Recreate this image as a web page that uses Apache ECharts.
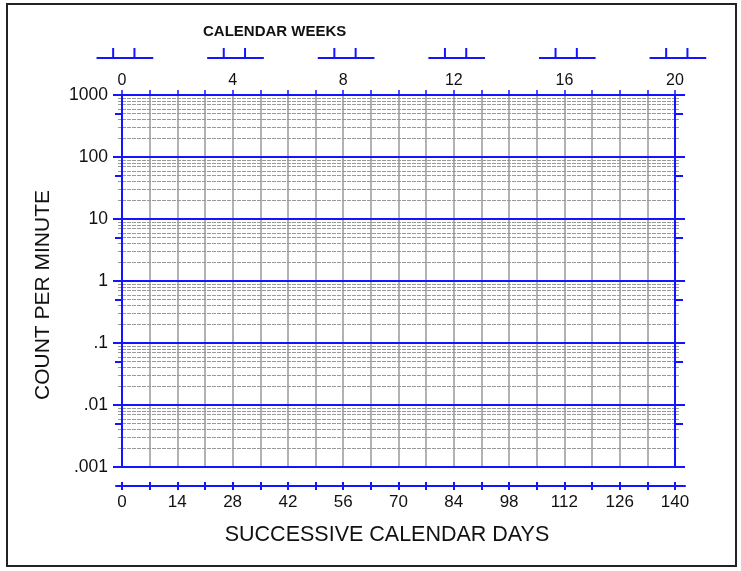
<!DOCTYPE html>
<html><head><meta charset="utf-8">
<script src="https://cdn.jsdelivr.net/npm/echarts@6/dist/echarts.min.js"></script>
<style>html,body{margin:0;padding:0;background:#fff}#c{width:741px;height:571px}</style>
</head><body><div id="c"></div>
<script>
// ---- data ----
const dayTicks = [0,7,14,21,28,35,42,49,56,63,70,77,84,91,98,105,112,119,126,133,140];
const dayLabels = [0,14,28,42,56,70,84,98,112,126,140];
const weekLabels = [0,4,8,12,16,20];
const decades = [0.001,0.01,0.1,1,10,100,1000];
const decadeLabels = ['.001','.01','.1','1','10','100','1000'];
const halfMarks = [0.005,0.05,0.5,5,50,500];
const minorValues = [
  0.002,0.003,0.004,0.005,0.006,0.007,0.008,0.009,
  0.02,0.03,0.04,0.05,0.06,0.07,0.08,0.09,
  0.2,0.3,0.4,0.5,0.6,0.7,0.8,0.9,
  2,3,4,5,6,7,8,9,
  20,30,40,50,60,70,80,90,
  200,300,400,500,600,700,800,900
];

// ---- layout / style ----
const W = 741, H = 571;
const PX0 = 122, PX1 = 675, PY0 = 95, PY1 = 467;
const DX0 = 116, DX1 = 685, DAY_AXIS_Y = 486;
const pxPerDay = (PX1 - PX0) / 140;
const dayMin = -(PX0 - DX0) / pxPerDay;
const dayMax = 140 + (DX1 - PX1) / pxPerDay;
const BLUE = '#1414ff';
const GRAY = '#999999';
const FONT = 'Liberation Sans, Arial, sans-serif';

const chart = echarts.init(document.getElementById('c'), null, {renderer: 'canvas'});

function decadeLabel(v) {
  for (let i = 0; i < decades.length; i++) {
    if (Math.abs(Math.log10(v) - Math.log10(decades[i])) < 1e-6) return decadeLabels[i];
  }
  return '';
}

const logBase = {type: 'log', logBase: 10, min: 0.001, max: 1000, gridIndex: 0};

const option = {
  animation: false,
  backgroundColor: '#fff',
  title: {
    text: 'CALENDAR WEEKS', left: 203, top: 24, padding: 0,
    textStyle: {fontFamily: FONT, fontSize: 15, fontWeight: 'bold', color: '#111'}
  },
  graphic: [{
    type: 'rect', shape: {x: 7, y: 4, width: 729, height: 562},
    style: {fill: 'none', stroke: '#222', lineWidth: 2}, z: 100
  }],
  grid: [
    {left: PX0, right: W - PX1, top: PY0, bottom: H - PY1},
    {left: DX0, right: W - DX1, top: DAY_AXIS_Y - 40, bottom: H - DAY_AXIS_Y},
    {left: PX0, right: W - PX1, top: 48, bottom: H - 58}
  ],
  xAxis: [
    { // top day/week axis
      gridIndex: 0, type: 'value', position: 'top', min: 0, max: 140, interval: 7, z: 1,
      axisLine: {show: true, onZero: false, lineStyle: {color: BLUE, width: 2}},
      axisTick: {show: true, inside: false, length: 5, lineStyle: {color: BLUE, width: 1.5}},
      axisLabel: {show: true, customValues: weekLabels.map(w => w * 7), margin: 6,
        formatter: v => String(Math.round(v / 7)),
        fontFamily: FONT, fontSize: 16, color: '#111'},
      splitLine: {show: true, lineStyle: {color: GRAY, width: 1.5}}
    },
    { // bottom days axis, outward ticks + labels
      gridIndex: 1, type: 'value', position: 'bottom', min: dayMin, max: dayMax, z: 3,
      name: 'SUCCESSIVE CALENDAR DAYS', nameLocation: 'middle', nameGap: 38,
      nameTextStyle: {fontFamily: FONT, fontSize: 21.5, color: '#111', padding: [0, 27, 0, 0]},
      axisLine: {show: true, onZero: false, lineStyle: {color: BLUE, width: 2}},
      axisTick: {show: true, customValues: dayTicks, inside: false, length: 4, lineStyle: {color: BLUE, width: 2}},
      axisLabel: {show: true, customValues: dayLabels, margin: 8,
        fontFamily: FONT, fontSize: 17, color: '#111'},
      splitLine: {show: false}
    },
    { // bottom days axis, inward ticks
      gridIndex: 1, type: 'value', position: 'bottom', min: dayMin, max: dayMax, z: 3,
      axisLine: {show: false, onZero: false},
      axisTick: {show: true, customValues: dayTicks, inside: true, length: 4, lineStyle: {color: BLUE, width: 2}},
      axisLabel: {show: false},
      splitLine: {show: false}
    },
    { // week brackets axis
      gridIndex: 2, type: 'value', min: 0, max: 20, show: false
    }
  ],
  yAxis: [
    Object.assign({}, logBase, { // left decades
      position: 'left', z: 3,
      name: 'COUNT PER MINUTE', nameLocation: 'middle', nameRotate: 90, nameGap: 68,
      nameTextStyle: {fontFamily: FONT, fontSize: 21, color: '#111', padding: [0, 28, 0, 0]},
      axisLine: {show: true, lineStyle: {color: BLUE, width: 2}},
      axisTick: {show: true, customValues: decades, length: 9, lineStyle: {color: BLUE, width: 2}},
      axisLabel: {show: true, customValues: decades, margin: 14, formatter: decadeLabel,
        fontFamily: FONT, fontSize: 17.5, color: '#111'},
      splitLine: {show: true, lineStyle: {color: BLUE, width: 2}}
    }),
    Object.assign({}, logBase, { // left minor gridlines
      position: 'left', z: 1,
      axisLine: {show: false},
      axisTick: {show: true, customValues: minorValues, length: 4, lineStyle: {color: GRAY, width: 1}},
      axisLabel: {show: false},
      splitLine: {show: true, lineStyle: {color: GRAY, width: 1, type: [4, 1]}}
    }),
    Object.assign({}, logBase, { // left half-decade marks
      position: 'left', z: 3,
      axisLine: {show: false},
      axisTick: {show: true, customValues: halfMarks, length: 7, lineStyle: {color: BLUE, width: 2}},
      axisLabel: {show: false},
      splitLine: {show: false}
    }),
    Object.assign({}, logBase, { // right decades
      position: 'right', z: 3,
      axisLine: {show: true, lineStyle: {color: BLUE, width: 2}},
      axisTick: {show: true, customValues: decades, length: 10, lineStyle: {color: BLUE, width: 2}},
      axisLabel: {show: false},
      splitLine: {show: false}
    }),
    Object.assign({}, logBase, { // right half-decade marks
      position: 'right', z: 3,
      axisLine: {show: false},
      axisTick: {show: true, customValues: halfMarks, length: 8, lineStyle: {color: BLUE, width: 2}},
      axisLabel: {show: false},
      splitLine: {show: false}
    }),
    Object.assign({}, logBase, { // right minor ticks
      position: 'right', z: 1,
      axisLine: {show: false},
      axisTick: {show: true, customValues: minorValues, length: 4, lineStyle: {color: GRAY, width: 1}},
      axisLabel: {show: false},
      splitLine: {show: false}
    }),
    {gridIndex: 1, type: 'value', min: 0, max: 1, show: false},
    {gridIndex: 2, type: 'value', min: 0, max: 1, show: false}
  ],
  series: [{
    type: 'custom',
    xAxisIndex: 3, yAxisIndex: 7,
    clip: false,
    data: weekLabels.map(w => [w, 0]),
    encode: {x: 0, y: 1},
    renderItem: function (params, api) {
      const w = api.value(0);
      const base = api.coord([w, 0]);
      const top = api.coord([w, 1]);
      const xa = api.coord([w - 0.92, 0])[0];
      const xb = api.coord([w + 1.13, 0])[0];
      const t1 = api.coord([w - 0.32, 0])[0];
      const t2 = api.coord([w + 0.45, 0])[0];
      const st = {stroke: BLUE, lineWidth: 2};
      return {type: 'group', children: [
        {type: 'line', shape: {x1: xa, y1: base[1], x2: xb, y2: base[1]}, style: st},
        {type: 'line', shape: {x1: t1, y1: base[1], x2: t1, y2: top[1]}, style: st},
        {type: 'line', shape: {x1: t2, y1: base[1], x2: t2, y2: top[1]}, style: st}
      ]};
    }
  }]
};
chart.setOption(option);
</script>
</body></html>
